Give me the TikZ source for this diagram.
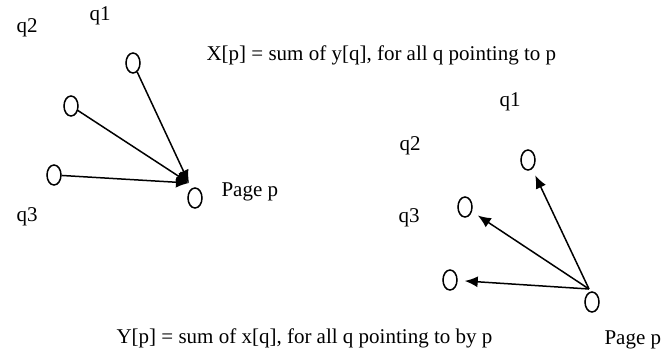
\documentclass[tikz,border=0pt]{standalone}
\usepackage{fontspec}
\setmainfont{Liberation Serif}
\usetikzlibrary{arrows.meta,shapes.geometric}

\begin{document}
\begin{tikzpicture}[
  x=1pt,y=-1pt,
  font=\fontsize{21}{24}\selectfont,
  page/.style={draw,ellipse,line width=1.5pt,minimum width=14pt,minimum height=20pt,inner sep=0pt},
  link/.style={-{Latex[length=13pt,width=11pt]},line width=1.5pt}
]
\useasboundingbox (0,0) rectangle (662,354);

% in-links: pages pointing to p
\node[page] (qa1) at (133,63) {};
\node[page] (qa2) at (71,106) {};
\node[page] (qa3) at (54,175) {};
\node[page] (pa) at (195,198) {};
\coordinate (hit) at (189,183);
\draw[link] (qa1) -- (hit);
\draw[link] (qa2) -- (hit);
\draw[link] (qa3) -- (hit);

\node (la1) at (100,16) {q1};
\node (la2) at (27,28) {q2};
\node (la3) at (27,217) {q3};
\node[anchor=west] (lpa) at (218,192) {Page p};
\node[anchor=west] (xrule) at (203,55) {X[p] = sum of y[q], for all q pointing to p};

% out-links: pages pointed to by p
\node[page] (qb1) at (528,160) {};
\node[page] (qb2) at (465,207) {};
\node[page] (qb3) at (450,280) {};
\node[page] (pb) at (592,302) {};
\coordinate (src) at (589,289);
\draw[link,shorten >=7pt] (src) -- (qb1);
\draw[link,shorten >=7pt] (src) -- (qb2);
\draw[link,shorten >=7pt] (src) -- (qb3);

\node (lb1) at (510,102) {q1};
\node (lb2) at (410,146) {q2};
\node (lb3) at (409,218) {q3};
\node[anchor=west] (lpb) at (601,340) {Page p};
\node[anchor=west] (yrule) at (113,338) {Y[p] = sum of x[q], for all q pointing to by p};
\end{tikzpicture}
\end{document}
